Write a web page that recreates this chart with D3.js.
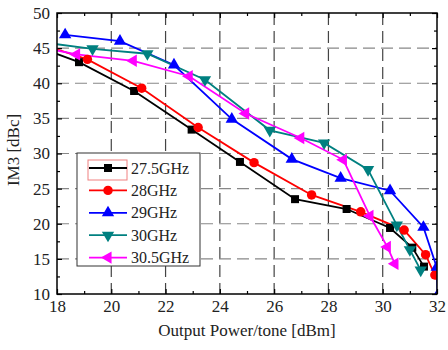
<!DOCTYPE html>
<html>
<head>
<meta charset="utf-8">
<script src="https://cdn.jsdelivr.net/npm/d3@7"></script>
<style>
  body { margin: 0; background: #fff; }
  svg text { font-family: "Liberation Serif", "DejaVu Serif", serif; fill: #222; }
</style>
</head>
<body>
<div id="chart"></div>
<script>
// Data
const seriesNames = ['27.5GHz', '28GHz', '29GHz', '30GHz', '30.5GHz'];
const x275 = [17.7, 18.81, 20.84, 22.96, 24.74, 26.77, 28.67, 30.27, 31.09, 31.52];
const y275 = [44.6, 43.0, 38.9, 33.4, 28.8, 23.5, 22.1, 19.4, 16.6, 13.9];
const x28 = [17.7, 19.12, 21.12, 23.2, 25.26, 27.38, 29.19, 30.79, 31.58, 31.92];
const y28 = [45.2, 43.4, 39.3, 33.7, 28.7, 24.1, 21.7, 19.1, 15.6, 12.7];
const x29 = [18.3, 20.32, 22.31, 24.44, 26.65, 28.45, 30.27, 31.5, 31.99, 32.02];
const y29 = [46.9, 46.0, 42.6, 34.9, 29.2, 26.5, 24.7, 19.5, 13.8, 9.8];
const x30 = [17.7, 19.31, 21.33, 23.45, 25.84, 27.84, 29.46, 30.52, 31.0, 31.4];
const y30 = [45.7, 44.9, 44.2, 40.5, 33.3, 31.5, 27.7, 19.8, 16.3, 13.4];
const x305 = [17.7, 18.72, 20.81, 22.87, 24.95, 26.98, 28.55, 29.53, 30.17, 30.45];
const y305 = [44.9, 44.1, 43.2, 41.0, 35.7, 32.2, 29.1, 21.1, 16.7, 14.3];

const xTicks = [18, 20, 22, 24, 26, 28, 30, 32];
const yTicks = [10, 15, 20, 25, 30, 35, 40, 45, 50];

const colors = ['#000000', '#ff0000', '#0000ff', '#008080', '#ff00ff'];
const symbols = [
  { type: d3.symbolSquare, size: 64, rot: 0 },
  { type: d3.symbolCircle, size: 70, rot: 0 },
  { type: d3.symbolTriangle, size: 66, rot: 0 },
  { type: d3.symbolTriangle, size: 66, rot: 180 },
  { type: d3.symbolTriangle, size: 66, rot: -90 }
];

const xs = [x275, x28, x29, x30, x305];
const ys = [y275, y28, y29, y30, y305];
const series = seriesNames.map((name, i) => ({
  name,
  color: colors[i],
  sym: symbols[i],
  values: xs[i].map((x, j) => ({ x, y: ys[i][j] }))
}));

// Layout
const W = 448, H = 350;
const PLOT = { LEFT: 57, RIGHT: 437, TOP: 13, BOTTOM: 294 };

const svg = d3.select('#chart').append('svg')
  .attr('width', W)
  .attr('height', H);

const x = d3.scaleLinear().domain([18, 32]).range([PLOT.LEFT, PLOT.RIGHT]);
const y = d3.scaleLinear().domain([10, 50]).range([PLOT.BOTTOM, PLOT.TOP]);

svg.append('clipPath').attr('id', 'clip')
  .append('rect')
  .attr('x', PLOT.LEFT).attr('y', PLOT.TOP)
  .attr('width', PLOT.RIGHT - PLOT.LEFT)
  .attr('height', PLOT.BOTTOM - PLOT.TOP);

// Grid
svg.append('g')
  .selectAll('line')
  .data(xTicks.slice(1, -1))
  .enter().append('line')
  .attr('x1', d => x(d)).attr('x2', d => x(d))
  .attr('y1', PLOT.TOP).attr('y2', PLOT.BOTTOM)
  .attr('stroke', '#444')
  .attr('stroke-width', 1.2)
  .attr('stroke-dasharray', '12,6');

svg.append('g')
  .selectAll('line')
  .data(yTicks.slice(1, -1))
  .enter().append('line')
  .attr('x1', PLOT.LEFT).attr('x2', PLOT.RIGHT)
  .attr('y1', d => y(d)).attr('y2', d => y(d))
  .attr('stroke', '#888')
  .attr('stroke-width', 1.2)
  .attr('stroke-dasharray', '12,6');

// Axes (ticks inward on all four sides)
const minorX = d3.range(19, 32, 2);
const minorY = d3.range(12.5, 50, 5);

function axisGroup(axis, tx, ty) {
  const g = svg.append('g').attr('transform', `translate(${tx},${ty})`).call(axis);
  g.select('.domain').remove();
  g.selectAll('line').attr('stroke', '#000').attr('stroke-width', 1.2);
  return g;
}

const bottom = axisGroup(d3.axisBottom(x).tickValues(xTicks).tickSizeInner(-5).tickSizeOuter(0).tickPadding(6).tickFormat(d3.format('d')), 0, PLOT.BOTTOM);
bottom.selectAll('text').style('font-size', '17px');
axisGroup(d3.axisBottom(x).tickValues(minorX).tickSize(-3).tickFormat(''), 0, PLOT.BOTTOM);
axisGroup(d3.axisTop(x).tickValues(xTicks).tickSize(-5).tickFormat(''), 0, PLOT.TOP);
axisGroup(d3.axisTop(x).tickValues(minorX).tickSize(-3).tickFormat(''), 0, PLOT.TOP);

const left = axisGroup(d3.axisLeft(y).tickValues(yTicks).tickSizeInner(-5).tickSizeOuter(0).tickPadding(7).tickFormat(d3.format('d')), PLOT.LEFT, 0);
left.selectAll('text').style('font-size', '17px');
axisGroup(d3.axisLeft(y).tickValues(minorY).tickSize(-3).tickFormat(''), PLOT.LEFT, 0);
axisGroup(d3.axisRight(y).tickValues(yTicks).tickSize(-5).tickFormat(''), PLOT.RIGHT, 0);
axisGroup(d3.axisRight(y).tickValues(minorY).tickSize(-3).tickFormat(''), PLOT.RIGHT, 0);

// Series
const line = d3.line().x(d => x(d.x)).y(d => y(d.y));
const plot = svg.append('g').attr('clip-path', 'url(#clip)');

series.forEach(s => {
  plot.append('path')
    .datum(s.values)
    .attr('fill', 'none')
    .attr('stroke', s.color)
    .attr('stroke-width', 1.8)
    .attr('d', line);
});

series.forEach(s => {
  const sym = d3.symbol().type(s.sym.type).size(s.sym.size);
  plot.selectAll(null)
    .data(s.values)
    .enter().append('path')
    .attr('d', sym)
    .attr('transform', d => `translate(${x(d.x)},${y(d.y)}) rotate(${s.sym.rot})`)
    .attr('fill', s.color);
});

// Frame
svg.append('rect')
  .attr('x', PLOT.LEFT).attr('y', PLOT.TOP)
  .attr('width', PLOT.RIGHT - PLOT.LEFT)
  .attr('height', PLOT.BOTTOM - PLOT.TOP)
  .attr('fill', 'none')
  .attr('stroke', '#000')
  .attr('stroke-width', 1.5);

// Axis titles
svg.append('text')
  .attr('x', (PLOT.LEFT + PLOT.RIGHT) / 2 + 0)
  .attr('y', 336)
  .attr('text-anchor', 'middle')
  .style('font-size', '17px')
  .text('Output Power/tone [dBm]');

svg.append('text')
  .attr('transform', 'translate(19,150) rotate(-90)')
  .attr('text-anchor', 'middle')
  .style('font-size', '17px')
  .text('IM3 [dBc]');

// Legend
const legend = svg.append('g');
legend.append('rect')
  .attr('x', 77).attr('y', 153)
  .attr('width', 123).attr('height', 113)
  .attr('fill', '#fff')
  .attr('stroke', '#333')
  .attr('stroke-width', 1);

// selection box Origin leaves around the first entry
legend.append('rect')
  .attr('x', 88).attr('y', 160)
  .attr('width', 39).attr('height', 20)
  .attr('fill', 'none')
  .attr('stroke', '#f08080')
  .attr('stroke-width', 1);

const items = legend.selectAll('.item')
  .data(series)
  .enter().append('g')
  .attr('class', 'item')
  .attr('transform', (d, i) => `translate(0,${168 + i * 22.4})`);

items.append('line')
  .attr('x1', 89).attr('x2', 127)
  .attr('stroke', d => d.color)
  .attr('stroke-width', 1.8);

items.append('path')
  .attr('d', d => d3.symbol().type(d.sym.type).size(d.sym.size)())
  .attr('transform', d => `translate(108,0) rotate(${d.sym.rot})`)
  .attr('fill', d => d.color);

items.append('text')
  .attr('x', 131)
  .attr('dy', '0.35em')
  .style('font-size', '16px')
  .text(d => d.name);
</script>
</body>
</html>
